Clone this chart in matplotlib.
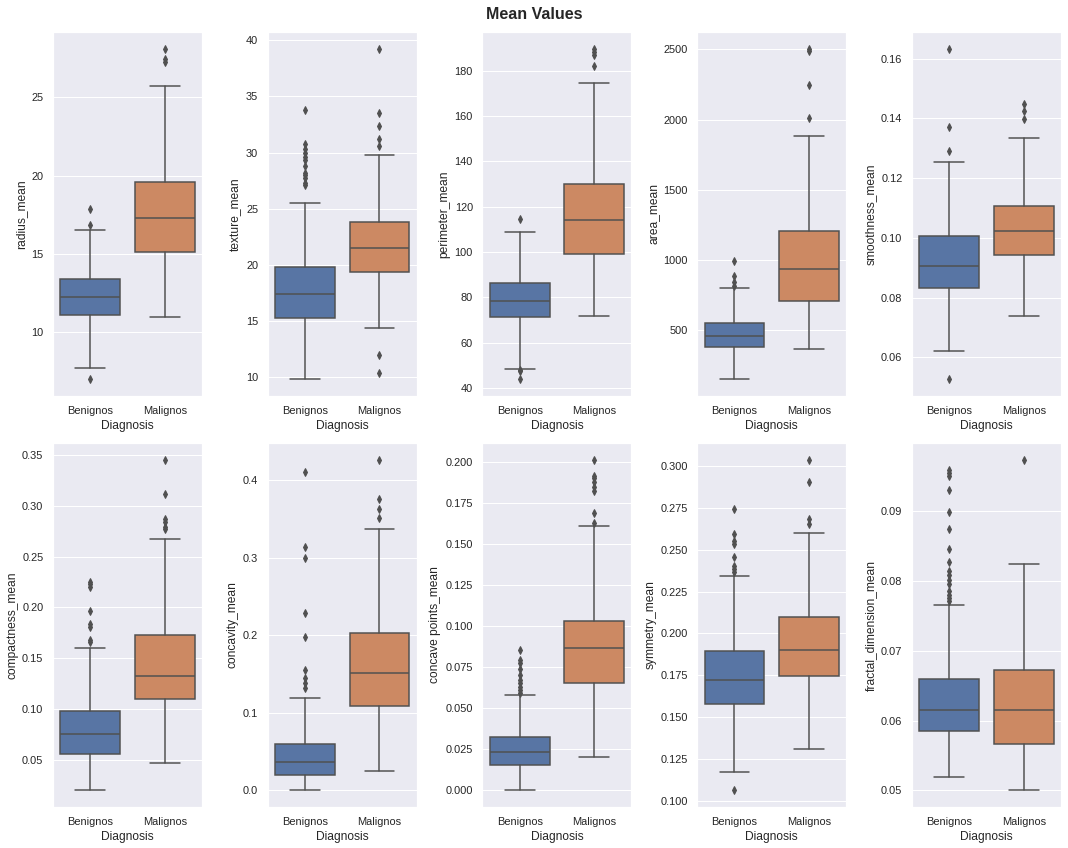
import matplotlib
matplotlib.use("Agg")
import matplotlib.pyplot as plt
import seaborn as sns

sns.set_theme()
plt.rcParams['font.family'] = ['Liberation Sans', 'DejaVu Sans']

categories = ["Benignos", "Malignos"]
features = ["radius_mean", "texture_mean", "perimeter_mean", "area_mean", "smoothness_mean",
            "compactness_mean", "concavity_mean", "concave points_mean", "symmetry_mean",
            "fractal_dimension_mean"]

# [whislo, q1, med, q3, whishi] for Benignos / Malignos
radius_b = [7.76, 11.10, 12.25, 13.39, 16.50]
radius_m = [10.99, 15.10, 17.32, 19.61, 25.72]
radius_fl_b = [16.85, 17.87, 7.0]
radius_fl_m = [28.10, 27.40, 27.22]

texture_b = [9.75, 15.20, 17.42, 19.82, 25.52]
texture_m = [14.33, 19.38, 21.51, 23.83, 29.82]
texture_fl_b = [33.77, 30.72, 30.30, 29.97, 29.60, 29.35, 28.80, 28.20, 28.0, 27.77, 27.30, 27.08]
texture_fl_m = [39.28, 33.56, 32.40, 31.20, 30.62, 10.36, 11.90]

perimeter_b = [48.4, 71.2, 78.5, 86.3, 108.6]
perimeter_m = [71.9, 99.2, 114.3, 130.0, 174.5]
perimeter_fl_b = [114.6, 47.98, 47.4, 43.79]
perimeter_fl_m = [189.7, 188.3, 186.8, 182.2]

area_b = [147, 382, 460, 550, 799]
area_m = [367, 709, 934, 1204, 1882]
area_fl_b = [990, 885, 840, 815]
area_fl_m = [2507, 2490, 2246, 2009]

smooth_b = [0.0623, 0.0831, 0.0907, 0.1008, 0.1255]
smooth_m = [0.0738, 0.0942, 0.1022, 0.1108, 0.1334]
smooth_fl_b = [0.1634, 0.1370, 0.1291, 0.0526]
smooth_fl_m = [0.1447, 0.1425, 0.1398]

compact_b = [0.0199, 0.0562, 0.0759, 0.0981, 0.1603]
compact_m = [0.0467, 0.1102, 0.1324, 0.1730, 0.2672]
compact_fl_b = [0.2250, 0.2225, 0.2200, 0.1966, 0.1839, 0.1806, 0.1682, 0.1656]
compact_fl_m = [0.3454, 0.3114, 0.2867, 0.2839, 0.2790, 0.2768]

concav_b = [0.0, 0.0206, 0.0370, 0.0602, 0.1199]
concav_m = [0.0245, 0.1096, 0.1521, 0.2037, 0.3377]
concav_fl_b = [0.4108, 0.3135, 0.3003, 0.2283, 0.1975, 0.1558, 0.1450, 0.1380, 0.1319]
concav_fl_m = [0.4268, 0.3754, 0.3635, 0.3514]

cpoints_b = [0.0, 0.0154, 0.0236, 0.0327, 0.0582]
cpoints_m = [0.0206, 0.0651, 0.0867, 0.1030, 0.1606]
cpoints_fl_b = [0.0855, 0.0794, 0.0774, 0.0737, 0.0703, 0.0673, 0.0653, 0.0632, 0.0612, 0.0595]
cpoints_fl_m = [0.2012, 0.1913, 0.1898, 0.1878, 0.1845, 0.1823, 0.1689, 0.1628]

symm_b = [0.1169, 0.1580, 0.1719, 0.1892, 0.2345]
symm_m = [0.1311, 0.1743, 0.1902, 0.2098, 0.2602]
symm_fl_b = [0.2743, 0.2597, 0.2550, 0.2535, 0.2459, 0.2403, 0.2384, 0.2368, 0.1060]
symm_fl_m = [0.3040, 0.2906, 0.2684, 0.2655]

fractal_b = [0.0520, 0.05854, 0.06155, 0.0659, 0.0765]
fractal_m = [0.0500, 0.05673, 0.06155, 0.0672, 0.0825]
fractal_fl_b = [0.0959, 0.0954, 0.0950, 0.0930, 0.0899, 0.0874, 0.0846, 0.0827, 0.0814,
                0.0809, 0.0802, 0.0796, 0.0785, 0.0780, 0.0776, 0.0771]
fractal_fl_m = [0.0974]

stats_b = [radius_b, texture_b, perimeter_b, area_b, smooth_b, compact_b, concav_b, cpoints_b, symm_b, fractal_b]
stats_m = [radius_m, texture_m, perimeter_m, area_m, smooth_m, compact_m, concav_m, cpoints_m, symm_m, fractal_m]
fl_b = [radius_fl_b, texture_fl_b, perimeter_fl_b, area_fl_b, smooth_fl_b, compact_fl_b, concav_fl_b, cpoints_fl_b, symm_fl_b, fractal_fl_b]
fl_m = [radius_fl_m, texture_fl_m, perimeter_fl_m, area_fl_m, smooth_fl_m, compact_fl_m, concav_fl_m, cpoints_fl_m, symm_fl_m, fractal_fl_m]

colors = ["#5875a4", "#cc8963"]
line_c = "#505050"

fig, axes = plt.subplots(2, 5, figsize=(1068 / 72, 848 / 72), dpi=72)
fig.subplots_adjust(left=0.0496, right=0.9934, top=0.9623, bottom=0.0483, wspace=0.441, hspace=0.129)

for i, ax in enumerate(axes.flat):
    bxps = []
    for s, f, lab in ((stats_b[i], fl_b[i], categories[0]), (stats_m[i], fl_m[i], categories[1])):
        bxps.append(dict(whislo=s[0], q1=s[1], med=s[2], q3=s[3], whishi=s[4], fliers=f, label=lab))
    art = ax.bxp(bxps, positions=[0, 1], widths=0.8, patch_artist=True, showfliers=True,
                 boxprops=dict(edgecolor=line_c, linewidth=1.5),
                 whiskerprops=dict(color=line_c, linewidth=1.5),
                 capprops=dict(color=line_c, linewidth=1.5),
                 medianprops=dict(color=line_c, linewidth=1.5),
                 flierprops=dict(marker='d', markerfacecolor=line_c, markeredgecolor=line_c,
                                 markersize=5, linestyle='none'))
    for patch, c in zip(art['boxes'], colors):
        patch.set_facecolor(c)
    ax.set_xlim(-0.5, 1.5)
    ax.set_xticks([0, 1])
    ax.set_xticklabels(categories)
    ax.grid(False, axis='x')
    ax.set_xlabel("Diagnosis")
    ax.set_ylabel(features[i])

fig.suptitle("Mean Values", fontsize=16, fontweight='bold', y=0.983, va='center')
fig.savefig("out.png", dpi=72)
